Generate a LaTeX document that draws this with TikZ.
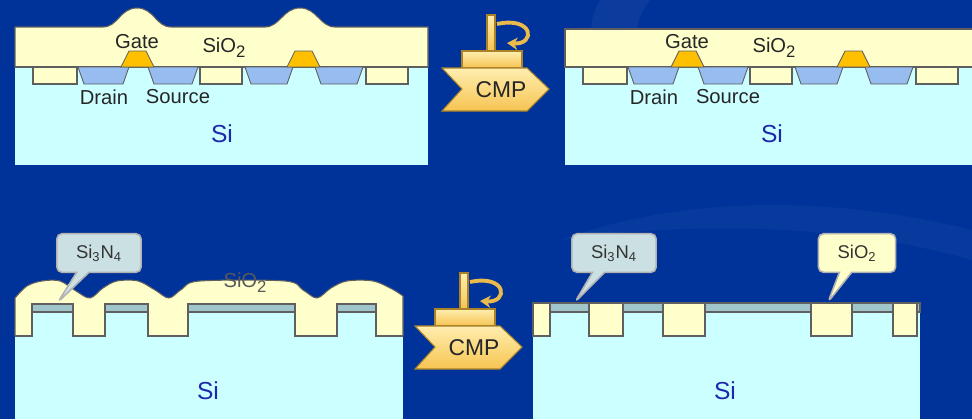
\documentclass[tikz,border=0pt]{standalone}
\usepackage{fontspec}
\setmainfont{Liberation Sans}
\usetikzlibrary{shapes.callouts,arrows.meta}

\definecolor{bgblue}{RGB}{0,51,153}
\definecolor{sicol}{RGB}{204,255,255}
\definecolor{oxcol}{RGB}{255,255,204}
\definecolor{sdcol}{RGB}{150,188,240}
\definecolor{gatecol}{RGB}{255,192,0}
\definecolor{nitcol}{RGB}{160,198,204}
\definecolor{edgecol}{RGB}{95,95,95}
\definecolor{silabel}{RGB}{30,40,170}
\definecolor{padlight}{RGB}{255,238,175}
\definecolor{paddark}{RGB}{246,196,82}
\definecolor{padedge}{RGB}{170,130,40}

% lowered index for the chemical formulas
\newcommand\lowidx[1]{\raisebox{-0.45ex}{\fontsize{9.5}{10}\selectfont #1}}

\begin{document}
\begin{tikzpicture}[x=0.02cm,y=-0.02cm,
    oxide/.style={fill=oxcol,draw=edgecol,line width=0.6pt},
    silicon/.style={fill=sicol,draw=edgecol,line width=0.6pt},
    well/.style={fill=sdcol,draw=edgecol,line width=0.5pt},
    gate/.style={fill=gatecol,draw=edgecol,line width=0.5pt},
    nitride/.style={fill=nitcol,draw=edgecol,line width=0.6pt},
    pad/.style={top color=padlight,bottom color=paddark,draw=padedge,line width=0.6pt},
    lbl/.style={font=\fontsize{11.5}{13}\selectfont,text=black!85},
    silbl/.style={font=\fontsize{14}{16}\selectfont,text=silabel},
    note/.style={rectangle callout,rounded corners=3pt,draw=gray!60,line width=0.9pt,
      minimum width=48pt,minimum height=22pt,callout pointer width=7pt,
      font=\fontsize{10.5}{12}\selectfont,text=black!80}]

  \useasboundingbox (0,0) rectangle (972,419);
  \fill[bgblue] (0,0) rectangle (972,419);
  \fill[white,opacity=0.04] (600,0) .. controls (570,50) and (620,95) .. (720,110)
    .. controls (640,80) and (620,40) .. (650,0) -- cycle;
  \fill[white,opacity=0.03] (560,240) .. controls (700,190) and (850,200) .. (972,230)
    -- (972,260) .. controls (850,225) and (700,220) .. (560,240) -- cycle;

  % oxide over the transistors, before and after polishing
  \draw[oxide] (15,27) -- (103,27) .. controls (118,27) and (120,8) .. (137,8)
    .. controls (154,8) and (156,27) .. (171,27) -- (265,27)
    .. controls (280,27) and (283,8) .. (300,8)
    .. controls (317,8) and (320,27) .. (335,27) -- (428,27) -- (428,67) -- (15,67) -- cycle;
  \draw[oxide] (565,29) rectangle (980,67);

  \foreach \dx/\nm in {0/l,550/r}{
    \begin{scope}[shift={(\dx,0)}]
      \fill[sicol] (15,67) rectangle (428,165);
      \draw[edgecol,line width=0.6pt] (15,67) -- (428,67);
      \foreach \a/\b in {33/77,200/242,366/408}
        \draw[oxide] (\a,67) rectangle (\b,84);
      \foreach \a/\b in {78/129,148/198,245/293,315/363}
        \draw[well] (\a,67) -- (\a+6,84) -- (\b-6,84) -- (\b,67) -- cycle;
      \foreach \g in {121,287}
        \draw[gate] (\g,67) -- (\g+8,51) -- (\g+25,51) -- (\g+33,67) -- cycle;
      \node[lbl] (gate\nm) at (137,42) {Gate};
      \node[lbl] (ox\nm) at (224,48) {SiO\lowidx{2}};
      \node[lbl] (drain\nm) at (104,97) {Drain};
      \node[lbl] (source\nm) at (178,97) {Source};
      \node[silbl] (si\nm) at (222,134) {Si};
    \end{scope}
  }

  % polishing pads
  \foreach \sx/\sy/\nm in {0/0/a,-27/258/b}{
    \begin{scope}[shift={(\sx,\sy)}]
      \draw[pad] (487,15) rectangle (495,51);
      \draw[paddark!85!padedge,line width=2.2pt,-{Stealth[length=6pt,width=7pt]}]
        (497,24) .. controls (534,16) and (536,45) .. (507,43);
      \draw[pad] (462,51) rectangle (522,68);
      \draw[pad] (442,68) -- (527,68) -- (549,89) -- (527,111) -- (442,111) -- (462,89) -- cycle;
      \node[font=\fontsize{13}{15}\selectfont,text=black!85] (cmp\nm) at (501,90) {CMP};
    \end{scope}
  }

  % trench fill before polishing
  \draw[oxide] plot[smooth,tension=0.55] coordinates {(15,298) (27,286) (42,281) (60,281)
    (76,291) (90,298) (103,288) (117,281) (138,281) (155,290) (169,298) (182,289)
    (200,281) (285,281) (303,290) (317,298) (331,288) (347,281) (373,281) (392,289) (403,296)}
    -- (403,336) -- (15,336) -- cycle;
  \fill[sicol] (15,336) rectangle (403,419);
  \draw[silicon] (15,336) -- (32,336) -- (32,312) -- (73,312) -- (73,336) -- (105,336)
    -- (105,312) -- (148,312) -- (148,336) -- (188,336) -- (188,312) -- (295,312)
    -- (295,336) -- (337,336) -- (337,312) -- (376,312) -- (376,336) -- (403,336);
  \foreach \a/\b in {32/73,105/148,188/295,337/376}
    \draw[nitride] (\a,304) rectangle (\b,312);
  \node[lbl,text=black!65] (oxc) at (245,283) {SiO\lowidx{2}};
  \node[silbl] (sic) at (208,391) {Si};
  \node[note,fill=nitcol!55!white,callout absolute pointer={(58,302)}] (nitc) at (99,253)
    {Si\textsubscript{3}N\textsubscript{4}};

  % trench fill after polishing
  \fill[sicol] (533,303) rectangle (920,419);
  \draw[nitride] (533,303) rectangle (920,312);
  \foreach \a/\b in {533/550,589/623,663/705,811/852,893/917}
    \draw[oxide] (\a,303) rectangle (\b,336);
  \node[silbl] (sid) at (725,391) {Si};
  \node[note,fill=nitcol!55!white,callout absolute pointer={(575,302)}] (nitd) at (614,253)
    {Si\textsubscript{3}N\textsubscript{4}};
  \node[note,fill=oxcol,minimum width=44pt,callout absolute pointer={(828,302)}] (oxd) at (857,253)
    {SiO\textsubscript{2}};
\end{tikzpicture}
\end{document}
